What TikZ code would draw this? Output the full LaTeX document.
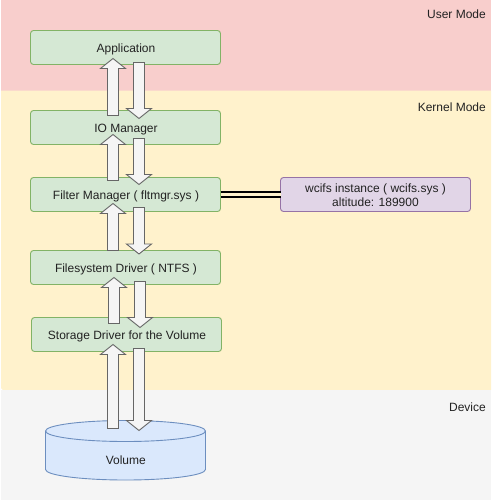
\documentclass[tikz,border=0pt]{standalone}
\usepackage{fontspec}
\setmainfont{Liberation Sans}
\usetikzlibrary{calc}
\definecolor{gfill}{HTML}{D5E8D4}\definecolor{gline}{HTML}{82B366}
\definecolor{pfill}{HTML}{E1D5E7}\definecolor{pline}{HTML}{9673A6}
\definecolor{bfill}{HTML}{DAE8FC}\definecolor{bline}{HTML}{6C8EBF}
\definecolor{rband}{HTML}{F8CECC}\definecolor{yband}{HTML}{FFF2CC}\definecolor{gband}{HTML}{F5F5F5}
\definecolor{ink}{HTML}{222222}\definecolor{aline}{HTML}{666666}
\tikzset{
  layerbox/.style={draw=gline,fill=gfill,rounded corners=3pt,line width=0.9pt,outer sep=0pt,minimum width=190pt,minimum height=34pt,inner sep=0pt,text=ink,font=\fontsize{12}{14}\selectfont,align=center,anchor=north west},
  sidebox/.style={layerbox,draw=pline,fill=pfill},
  bandlabel/.style={anchor=east,inner sep=0pt,text=ink,font=\fontsize{12}{14}\selectfont},
  blockarrow/.style={draw=aline,fill=gband,line width=0.9pt,line join=miter},
}
% from coordinate to coordinate (vertical), head length 10
\newcommand{\blockarrow}[3][10]{%
  \draw[blockarrow] let \p1=(#2),\p2=(#3),\n1={\y2>\y1?1:-1} in
    (\x1-5.5pt,\y1) -- (\x1-5.5pt,\y2-\n1*#1 pt) -- (\x1-12.5pt,\y2-\n1*#1 pt) -- (\x2,\y2)
    -- (\x1+12.5pt,\y2-\n1*#1 pt) -- (\x1+5.5pt,\y2-\n1*#1 pt) -- (\x1+5.5pt,\y1) -- cycle;}
\newcommand{\lowertext}[1]{\hspace{1pt}\raisebox{-5pt}[0pt][0pt]{#1}}
\begin{document}
\begin{tikzpicture}[x=1pt,y=-1pt]
\useasboundingbox (0,0) rectangle (491,501);
\fill[rband] (1,0) rectangle (491,90.5);
\fill[yband] (1,90.5) -- (491,90.5) -- (491,390) -- (3,390) -- (1,388) -- cycle;
\fill[gband] (1,390) rectangle (491,500);
\node[bandlabel] (lu) at (486,14) {User Mode};
\node[bandlabel] (lk) at (486,107) {Kernel Mode};
\node[bandlabel] (ld) at (486,407) {Device};
\node[layerbox] (app) at (30.5,30.5) {\lowertext{Application}};
\node[layerbox] (io) at (30.5,110.5) {\lowertext{IO Manager}};
\node[layerbox] (flt) at (30.5,177.5) {\lowertext{Filter Manager ( fltmgr.sys )}};
\node[layerbox] (fs) at (30.5,250.5) {\lowertext{Filesystem Driver ( NTFS )}};
\node[layerbox] (sd) at (31.5,317.5) {\lowertext{Storage Driver for the Volume}};
\node[sidebox] (wc) at (280.5,177.5) {\rule{0pt}{10.5pt}wcifs instance ( wcifs.sys )\\altitude: 189900};
\draw[black,line width=2pt,double=yband,double distance=2.4pt] (flt.east) -- (wc.west);
% cylinder
\draw[draw=bline,fill=bfill,line width=0.9pt] (45.5,431) -- (45.5,469.5) arc[start angle=180,end angle=0,x radius=80,y radius=10.5] -- (205.5,431) arc[start angle=0,end angle=180,x radius=80,y radius=-10.5] -- cycle;
\draw[draw=bline,line width=0.9pt] (45.5,431) arc[start angle=180,end angle=0,x radius=80,y radius=10.5];
\node[inner sep=0pt,text=ink,font=\fontsize{12}{14}\selectfont] (vol) at (125.8,460.2) {Volume};
% arrows
\coordinate (a1) at (113,115.5); \coordinate (a2) at (113,58.5);
\coordinate (b1) at (139,62.5); \coordinate (b2) at (139,118.5);
\coordinate (c1) at (113,180.5); \coordinate (c2) at (113,134.5);
\coordinate (d1) at (139,138.5); \coordinate (d2) at (139,184.5);
\coordinate (e1) at (113,250.5); \coordinate (e2) at (113,203.5);
\coordinate (f1) at (139,207.5); \coordinate (f2) at (139,254);
\coordinate (g1) at (114,323.5); \coordinate (g2) at (114,277.5);
\coordinate (h1) at (140,281.5); \coordinate (h2) at (140,327.5);
\coordinate (i1) at (113,428.5); \coordinate (i2) at (113,344.5);
\coordinate (j1) at (139,348.5); \coordinate (j2) at (139,430.5);
\blockarrow{a1}{a2}\blockarrow{b1}{b2}
\blockarrow{c1}{c2}\blockarrow{d1}{d2}
\blockarrow{e1}{e2}\blockarrow{f1}{f2}
\blockarrow{g1}{g2}\blockarrow{h1}{h2}
\blockarrow{i1}{i2}\blockarrow{j1}{j2}
\end{tikzpicture}
\end{document}
